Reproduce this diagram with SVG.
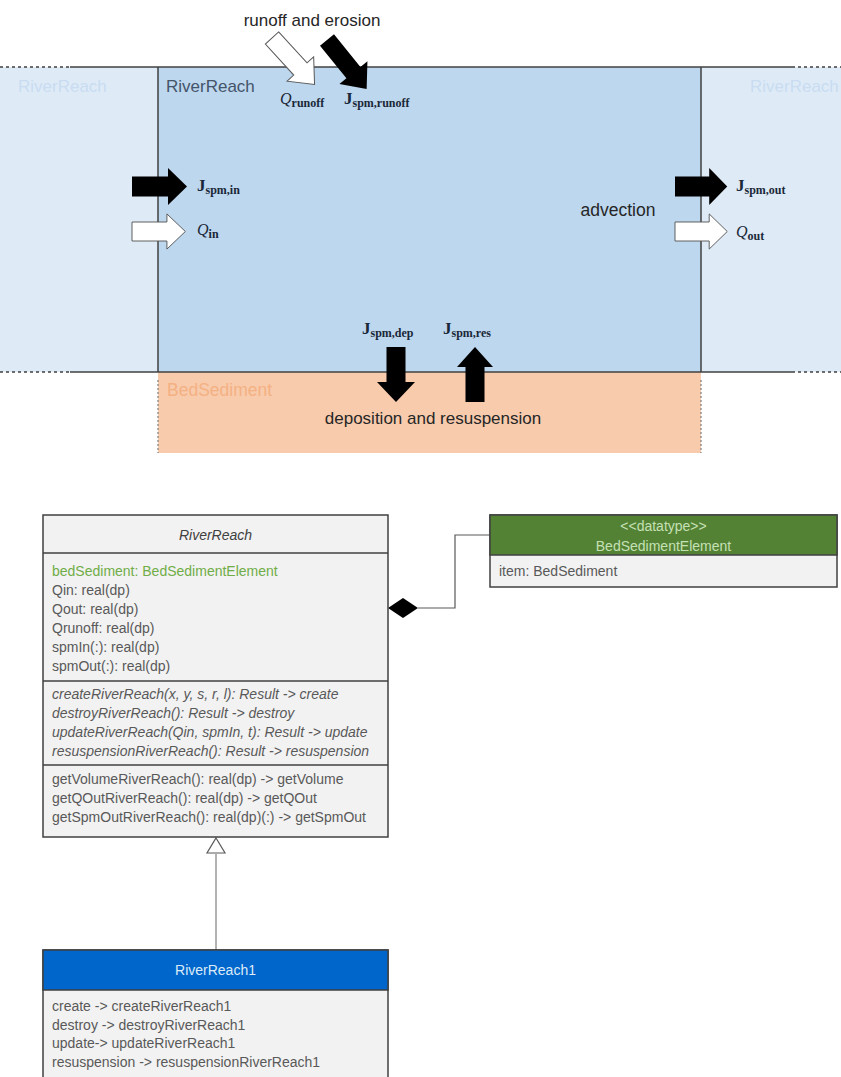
<svg xmlns="http://www.w3.org/2000/svg" width="841" height="1077" viewBox="0 0 841 1077">
<defs>
<style>
.lbl{font-family:"Liberation Sans",Arial,sans-serif;fill:#262626}
.ghost{font-family:"Liberation Sans",Arial,sans-serif;font-size:17px;fill:#c9dcf1}
.math{font-family:"Liberation Serif","Times New Roman",serif;fill:#1b2838}
.J{font-weight:bold;font-size:17px}
.Q{font-style:italic;font-size:16px}
.sub{font-weight:bold;font-size:12px}
.uml{font-family:"Liberation Sans",Arial,sans-serif;font-size:14px;fill:#595959}
.box{fill:#f2f2f2;stroke:#404040;stroke-width:1.5}
.sep{stroke:#404040;stroke-width:1.5}
.bline{stroke:#404040;stroke-width:1.5;fill:none}
.dline{stroke:#404040;stroke-width:1.5;stroke-dasharray:3,3;fill:none}
.blk{fill:#000}
.wht{fill:#fff;stroke:#595959;stroke-width:1}
</style>
<path id="harrow" d="M0,-10 L36,-10 L36,-18.5 L55,0 L36,18.5 L36,10 L0,10 Z"/>
<path id="darrow" d="M0,-9 L42,-9 L42,-18 L63,0 L42,18 L42,9 L0,9 Z"/>
</defs>
<rect width="841" height="1077" fill="#fff"/>

<g id="scene-reaches">
<rect x="0" y="67" width="158" height="305" fill="#deebf7"/>
<rect x="701" y="67" width="140" height="305" fill="#deebf7"/>
<rect x="158" y="67" width="543" height="305" fill="#bdd7ee"/>
<rect x="158" y="372" width="543" height="81" fill="#f8cbad"/>
<line class="dline" x1="0" y1="67" x2="70" y2="67"/>
<line class="bline" x1="70" y1="67" x2="792" y2="67"/>
<line class="dline" x1="792" y1="67" x2="841" y2="67"/>
<line class="dline" x1="0" y1="372" x2="70" y2="372"/>
<line class="bline" x1="70" y1="372" x2="792" y2="372"/>
<line class="dline" x1="792" y1="372" x2="841" y2="372"/>
<line class="bline" x1="158" y1="67" x2="158" y2="372"/>
<line class="bline" x1="701" y1="67" x2="701" y2="372"/>
<line stroke="#7f7f7f" stroke-width="1.2" stroke-dasharray="2,2" x1="158" y1="380" x2="158" y2="453"/>
<line stroke="#7f7f7f" stroke-width="1.2" stroke-dasharray="2,2" x1="701" y1="380" x2="701" y2="453"/>
<text class="ghost" x="18" y="92">RiverReach</text>
<text class="ghost" x="750" y="92">RiverReach</text>
<text class="lbl" x="166" y="92" font-size="17" style="fill:#44546a">RiverReach</text>
<text class="lbl" x="167" y="396" font-size="17.5" style="fill:#f4b183">BedSediment</text>
</g>

<g id="flux-arrows">
<use href="#darrow" class="wht" transform="translate(272,38) rotate(47.5)"/>
<use href="#darrow" class="blk" transform="translate(327,40) rotate(51)"/>
<use href="#harrow" class="blk" transform="translate(132,186.5)"/>
<use href="#harrow" class="wht" transform="translate(132,231.5) scale(0.97,0.95)"/>
<use href="#harrow" class="blk" transform="translate(675,186.5) scale(0.95,1)"/>
<use href="#harrow" class="wht" transform="translate(675,231.5) scale(0.95,0.95)"/>
<path class="blk" d="M386.5,347 L405.5,347 L405.5,382 L415,382 L396,402 L377,382 L386.5,382 Z"/>
<path class="blk" d="M465.5,402 L484.5,402 L484.5,367 L493,367 L475,347 L457,367 L465.5,367 Z"/>
</g>

<g id="flux-labels">
<text class="lbl" x="312" y="26" font-size="17" text-anchor="middle">runoff and erosion</text>
<text class="lbl" x="618" y="216" font-size="17.5" text-anchor="middle">advection</text>
<text class="lbl" x="433" y="424" font-size="17" text-anchor="middle">deposition and resuspension</text>
<text class="math" x="280" y="104"><tspan class="Q">Q</tspan><tspan class="sub" dy="3">runoff</tspan></text>
<text class="math" x="344" y="104"><tspan class="J">J</tspan><tspan class="sub" dy="3">spm,runoff</tspan></text>
<text class="math" x="197" y="191"><tspan class="J">J</tspan><tspan class="sub" dy="3">spm,in</tspan></text>
<text class="math" x="197" y="235"><tspan class="Q">Q</tspan><tspan class="sub" dy="3">in</tspan></text>
<text class="math" x="736" y="191"><tspan class="J">J</tspan><tspan class="sub" dy="3">spm,out</tspan></text>
<text class="math" x="736" y="237"><tspan class="Q">Q</tspan><tspan class="sub" dy="3">out</tspan></text>
<text class="math" x="362" y="334"><tspan class="J">J</tspan><tspan class="sub" dy="3">spm,dep</tspan></text>
<text class="math" x="443" y="334"><tspan class="J">J</tspan><tspan class="sub" dy="3">spm,res</tspan></text>
</g>

<g id="connectors">
<polyline points="418,608 455,608 455,535 490,535" fill="none" stroke="#595959" stroke-width="1.2"/>
<path d="M388,608 L403,598 L418,608 L403,618 Z" fill="#000"/>
<line x1="216" y1="950" x2="216" y2="854" stroke="#7f7f7f" stroke-width="1.2"/>
<path d="M216,838 L225,853 L207,853 Z" fill="#fff" stroke="#595959" stroke-width="1.2"/>
</g>

<g id="class-RiverReach">
<rect class="box" x="43" y="515" width="345" height="322"/>
<line class="sep" x1="43" y1="553" x2="388" y2="553"/>
<line class="sep" x1="43" y1="681" x2="388" y2="681"/>
<line class="sep" x1="43" y1="765" x2="388" y2="765"/>
<text class="uml" x="215.5" y="540" font-size="13.5" font-style="italic" text-anchor="middle" style="fill:#404040">RiverReach</text>
<text class="uml" x="52" y="576" style="fill:#70ad47">bedSediment: BedSedimentElement</text>
<text class="uml" x="52" y="595">Qin: real(dp)</text>
<text class="uml" x="52" y="614">Qout: real(dp)</text>
<text class="uml" x="52" y="633">Qrunoff: real(dp)</text>
<text class="uml" x="52" y="652">spmIn(:): real(dp)</text>
<text class="uml" x="52" y="671">spmOut(:): real(dp)</text>
<text class="uml" x="52" y="699" font-style="italic">createRiverReach(x, y, s, r, l): Result -&gt; create</text>
<text class="uml" x="52" y="718" font-style="italic">destroyRiverReach(): Result -&gt; destroy</text>
<text class="uml" x="52" y="737" font-style="italic">updateRiverReach(Qin, spmIn, t): Result -&gt; update</text>
<text class="uml" x="52" y="756" font-style="italic">resuspensionRiverReach(): Result -&gt; resuspension</text>
<text class="uml" x="52" y="784">getVolumeRiverReach(): real(dp) -&gt; getVolume</text>
<text class="uml" x="52" y="803">getQOutRiverReach(): real(dp) -&gt; getQOut</text>
<text class="uml" x="52" y="822">getSpmOutRiverReach(): real(dp)(:) -&gt; getSpmOut</text>
</g>

<g id="class-BedSedimentElement">
<rect class="box" x="490" y="515" width="347" height="72"/>
<rect x="490" y="515" width="347" height="40" fill="#548235" stroke="#404040" stroke-width="1.5"/>
<text class="uml" x="663.5" y="531" text-anchor="middle" style="fill:#c5e0b4">&lt;&lt;datatype&gt;&gt;</text>
<text class="uml" x="663.5" y="551" text-anchor="middle" style="fill:#c5e0b4">BedSedimentElement</text>
<text class="uml" x="499" y="576">item: BedSediment</text>
</g>

<g id="class-RiverReach1">
<rect class="box" x="43" y="950" width="345" height="130"/>
<rect x="43" y="950" width="345" height="40" fill="#0066cc" stroke="#404040" stroke-width="1.5"/>
<text class="uml" x="215.5" y="975" font-size="13.5" text-anchor="middle" style="fill:#ddebf7">RiverReach1</text>
<text class="uml" x="52" y="1011">create -&gt; createRiverReach1</text>
<text class="uml" x="52" y="1030">destroy -&gt; destroyRiverReach1</text>
<text class="uml" x="52" y="1048">update-&gt; updateRiverReach1</text>
<text class="uml" x="52" y="1067">resuspension -&gt; resuspensionRiverReach1</text>
</g>
</svg>
